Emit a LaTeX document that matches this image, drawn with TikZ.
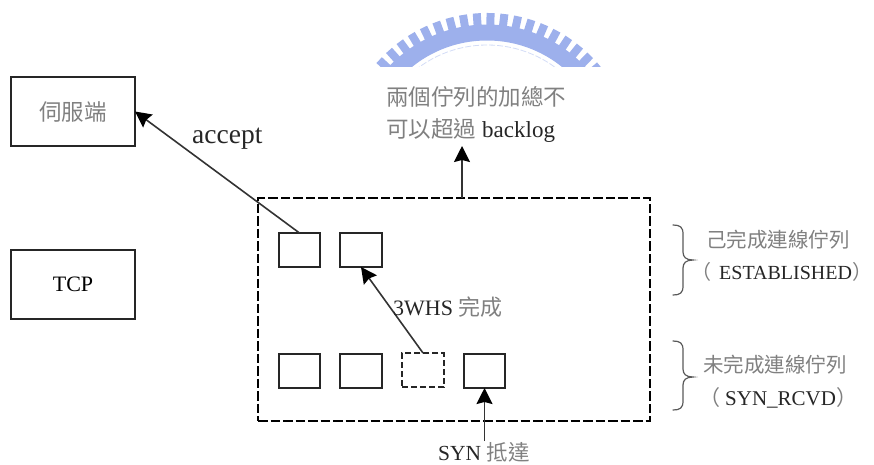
\documentclass[tikz,border=0pt]{standalone}
\usepackage{fontspec}
\setmainfont{Liberation Serif}
\newfontfamily\cjk{Noto Sans CJK TC}
\usetikzlibrary{arrows.meta}
\definecolor{zhgray}{gray}{0.5}
\definecolor{crest}{HTML}{9DB0EC}
\newcommand{\zh}[1]{{\cjk\color{zhgray}#1}}
\tikzset{
  box/.style={draw=black!85,line width=1.6pt,minimum width=#1,inner sep=0pt,outer sep=0pt},
  bigbox/.style={box=124pt,minimum height=69pt},
  cell/.style={box=41.5pt,minimum height=34pt},
  dashcell/.style={cell,dash pattern=on 6pt off 3pt},
  outerbox/.style={draw=black,line width=1.5pt,dash pattern=on 9.5pt off 3pt,minimum width=392pt,minimum height=223pt,inner sep=0pt,outer sep=0pt},
  arr/.style={draw=black!80,line width=1.6pt,-{Stealth[length=16pt,width=16pt,inset=2pt,black]}},
  lbl/.style={inner sep=0pt,font=\fontsize{21}{25}\selectfont,text=black!85},
  lblw/.style={lbl,anchor=west},
  tooth/.style={draw=crest,line width=8pt},
  bracestyle/.style={draw=black!65,line width=1.2pt,line cap=round}
}
\begin{document}
\begin{tikzpicture}[x=1pt,y=-1pt]
\useasboundingbox (0,0) rectangle (874,464);
% crest
\begin{scope}
\clip (360,0) rectangle (620,66);
\coordinate (crestc) at (487,160);
\foreach \a in {212,217.4,...,330} {
  \draw[tooth] (crestc) ++(\a:130) -- ++(\a:17);
}
\draw[crest,line width=16pt] (crestc) circle[radius=127.5];
\draw[crest!45,line width=0.8pt,dash pattern=on 6pt off 2pt] (crestc) circle[radius=115];
\end{scope}
% boxes
\node[bigbox] (server) at (73,111.5) {\zh{\fontsize{22.5}{26}\selectfont 伺服端}};
\node[bigbox] (tcp) at (73,284.5) {\fontsize{22}{26}\selectfont TCP};
\node[outerbox] (outer) at (454,309.5) {};
\node[cell] (q1) at (299.5,250) {};
\node[cell] (q2) at (361,250) {};
\node[cell] (s1) at (299.5,371) {};
\node[cell] (s2) at (361,371) {};
\node[dashcell] (s3) at (423,370) {};
\node[cell] (s4) at (484.5,371) {};
% free ends
\coordinate (limit) at (462,146);
\coordinate (limitbase) at (462,198);
\coordinate (syn) at (484.5,441);
% connectors
\draw[arr] (q1.north) -- (server.east);
\draw[arr] (s3.north) -- (q2.south);
\draw[arr] (limitbase) -- (limit);
\draw[arr] (syn) -- (s4.south);
% labels
\node[lblw,font=\fontsize{27.5}{30}\selectfont] (accept) at (192,139) {accept};
\node[lblw,font=\fontsize{22.5}{26}\selectfont] (sum1) at (386,97) {\zh{兩個佇列的加總不}};
\node[lblw,font=\fontsize{22.5}{26}\selectfont] (sum2) at (386,131) {\zh{可以超過}\hspace{6pt}\fontsize{23}{26}\selectfont backlog};
\node[lblw,font=\fontsize{22}{26}\selectfont] (done) at (393,307) {3WHS \zh{完成}};
\node[lblw,font=\fontsize{21.5}{25}\selectfont] (synl) at (438,452) {SYN \zh{抵達}};
\node[lblw,font=\fontsize{20.5}{25}\selectfont] (est1) at (706,240) {\zh{己完成連線佇列}};
\node[lblw,font=\fontsize{20}{25}\selectfont] (est2) at (691,272) {\zh{（}\hspace{8pt}ESTABLISHED\zh{）}};
\node[lblw,font=\fontsize{20.5}{25}\selectfont] (un1) at (703,365) {\zh{未完成連線佇列}};
\node[lblw] (un2) at (699,398) {\zh{（}\hspace{5pt}SYN\_RCVD\zh{）}\hspace{-10pt}};
% braces
\draw[bracestyle] (673,225) .. controls (680,225) and (683,227) .. (683,234) -- (683,252) .. controls (683,257) and (686,260) .. (693,260) .. controls (686,260) and (683,263) .. (683,268) -- (683,286) .. controls (683,293) and (680,295) .. (673,295);
\draw[bracestyle] (673,341) .. controls (680,341) and (683,343) .. (683,350) -- (683,369) .. controls (683,374) and (686,377) .. (693,377) .. controls (686,377) and (683,380) .. (683,385) -- (683,401) .. controls (683,408) and (680,410) .. (673,410);
\end{tikzpicture}
\end{document}
